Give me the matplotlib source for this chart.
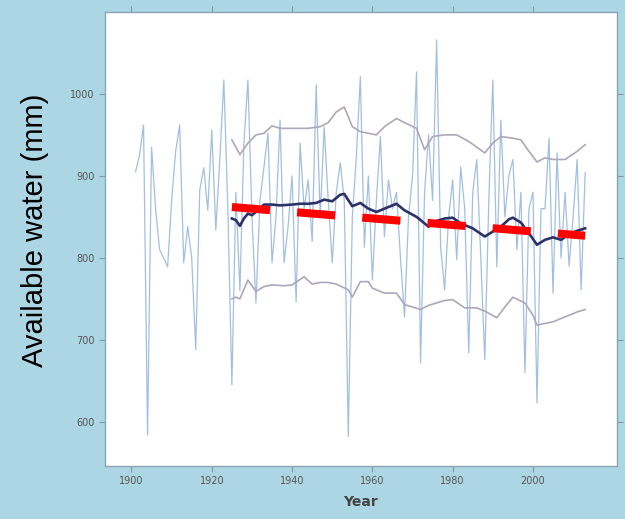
import matplotlib.pyplot as plt

# annual available water, 1901-2013
years = list(range(1901, 2014))
water = [905, 925, 962, 584, 935, 860, 810, 800, 789, 870,
         930, 962, 794, 838, 800, 688, 883, 910, 858, 956,
         834, 920, 1017, 860, 645, 880, 760, 940, 1017, 850,
         745, 870, 911, 952, 794, 850, 968, 794, 838, 900,
         746, 940, 860, 895, 820, 1011, 850, 960, 870, 794,
         880, 916, 870, 582, 850, 923, 1021, 813, 900, 773,
         870, 948, 826, 895, 860, 880, 800, 728, 850, 900,
         1027, 672, 880, 950, 870, 1066, 813, 761, 850, 895,
         798, 911, 860, 684, 880, 920, 800, 676, 870, 1017,
         789, 968, 850, 900, 920, 810, 880, 660, 860, 880,
         623, 860, 860, 946, 757, 928, 800, 880, 790, 850,
         920, 761, 904]

# running mean
mean_years = [1925, 1926, 1927, 1928, 1929, 1930, 1931, 1933, 1935, 1937,
              1940, 1942, 1944, 1946, 1948, 1950, 1952, 1953, 1955, 1957,
              1959, 1961, 1963, 1966, 1968, 1971, 1974, 1976, 1978, 1980,
              1982, 1985, 1988, 1990, 1992, 1994, 1995, 1997, 1999, 2001,
              2003, 2005, 2007, 2009, 2011, 2013]
mean_vals = [848, 846, 839, 848, 854, 852, 856, 865, 865, 864,
             865, 866, 866, 867, 871, 869, 877, 878, 863, 867,
             860, 856, 860, 866, 858, 850, 838, 845, 848, 849,
             842, 836, 826, 832, 838, 847, 849, 843, 830, 816,
             822, 825, 822, 829, 833, 836]

# upper and lower bands
upper_years = [1925, 1927, 1929, 1931, 1933, 1935, 1937, 1940, 1944, 1947,
               1949, 1951, 1953, 1955, 1957, 1959, 1961, 1963, 1966, 1968,
               1971, 1973, 1975, 1978, 1981, 1984, 1988, 1990, 1992, 1995,
               1997, 1999, 2001, 2003, 2005, 2008, 2011, 2013]
upper_vals = [944, 926, 940, 950, 952, 961, 958, 958, 958, 960,
              965, 978, 984, 960, 954, 952, 950, 960, 970, 965,
              958, 932, 948, 950, 950, 942, 928, 940, 948, 946,
              944, 930, 917, 922, 920, 920, 930, 938]
lower_years = [1925, 1926, 1927, 1929, 1931, 1933, 1935, 1938, 1940, 1943,
               1945, 1947, 1949, 1951, 1954, 1955, 1957, 1959, 1960, 1963,
               1966, 1968, 1970, 1972, 1974, 1976, 1978, 1980, 1983, 1986,
               1988, 1991, 1993, 1995, 1998, 2000, 2001, 2003, 2005, 2007,
               2009, 2011, 2013]
lower_vals = [750, 752, 750, 773, 759, 765, 767, 766, 767, 777,
              768, 770, 770, 768, 761, 752, 771, 771, 763, 757,
              757, 743, 740, 737, 742, 745, 748, 749, 739, 739,
              735, 727, 740, 752, 745, 730, 718, 720, 722, 726,
              730, 734, 737]

# linear trend
trend_years = [1925, 2013]
trend_vals = [862, 827]

xticks = [1900, 1920, 1940, 1960, 1980, 2000]
yticks = [600, 700, 800, 900, 1000]

bg = '#add6e4'
fig = plt.figure(figsize=(6.25, 5.19), dpi=100, facecolor=bg)
ax = fig.add_axes([0.168, 0.102, 0.819, 0.875])
ax.set_facecolor('white')

ax.plot(years, water, color='#a3bfe0', lw=0.9)
ax.plot(upper_years, upper_vals, color='#aea6ba', lw=1.2)
ax.plot(lower_years, lower_vals, color='#aea6ba', lw=1.2)
ax.plot(mean_years, mean_vals, color='#2c3168', lw=1.9)
ax.plot(trend_years, trend_vals, color='#ff0000', lw=5.8,
        dashes=(4.75, 3.37), solid_capstyle='butt', dash_capstyle='butt')

ax.set_xlim(1893.4, 2020.9)
ax.set_ylim(546, 1100)
ax.set_xticks(xticks)
ax.set_yticks(yticks)
ax.tick_params(direction='out', length=4, width=0.8, colors='#7f9aab',
               labelcolor='#555555', labelsize=7,
               top=True, right=True, labeltop=False, labelright=False)
for s in ax.spines.values():
    s.set_color('#8aa4b4')
    s.set_linewidth(1.0)

ax.set_xlabel('Year', fontsize=10, color='#444444', fontweight='bold', labelpad=6)
ax.set_ylabel('Available water (mm)', fontsize=21, family='Liberation Sans',
              color='black')
ax.yaxis.set_label_coords(-0.11, 0.52)

fig.savefig('out.png', dpi=100, facecolor=bg)
